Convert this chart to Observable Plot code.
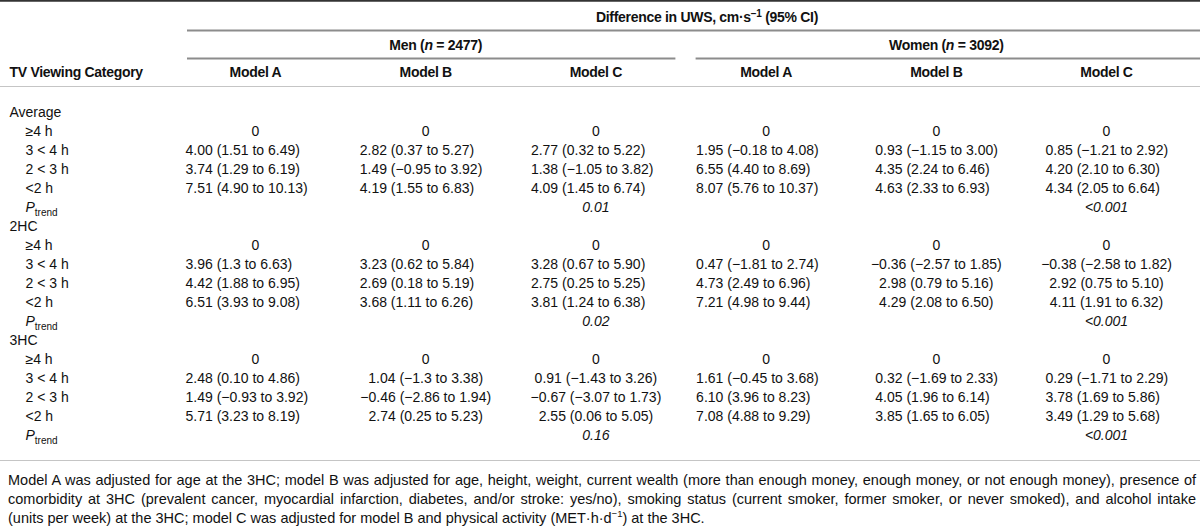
<!DOCTYPE html>
<html><head><meta charset="utf-8">
<script src="https://cdn.jsdelivr.net/npm/d3@7"></script>
<script src="https://cdn.jsdelivr.net/npm/@observablehq/plot@0.6"></script>
<style>
body{margin:0;background:#fff;width:1200px;overflow:hidden;font-family:"Liberation Sans",Arial,sans-serif;color:#111}
#head,#body{line-height:0}
#foot{font-size:14.5px;line-height:19px;padding:10px 4px 0 8px;}
#foot div{text-align:justify;white-space:nowrap}
#foot .j{text-align-last:justify}
sup{font-size:9.5px;line-height:0}
</style></head><body>
<div id="head"></div><div id="body"></div>
<div id="foot">
<div class="j">Model A was adjusted for age at the 3HC; model B was adjusted for age, height, weight, current wealth (more than enough money, enough money, or not enough money), presence of</div>
<div class="j">comorbidity at 3HC (prevalent cancer, myocardial infarction, diabetes, and/or stroke: yes/no), smoking status (current smoker, former smoker, or never smoked), and alcohol intake</div>
<div>(units per week) at the 3HC; model C was adjusted for model B and physical activity (MET·h·d<sup>−1</sup>) at the 3HC.</div>
</div>
<script>
// ---------- data ----------
const blocks = ["Average", "2HC", "3HC"];
const categories = ["≥4 h", "3 < 4 h", "2 < 3 h", "<2 h"];
const models = ["Model A", "Model B", "Model C"];
const groups = ["Men (n = 2477)", "Women (n = 3092)"];
const spannerLabel = "Difference in UWS, cm·s−1 (95% CI)";
const stubLabel = "TV Viewing Category";
const trendLabel = "Ptrend";

// cells: Average (4), 2HC (4), 3HC (4)
const menA = ["0", "4.00 (1.51 to 6.49)", "3.74 (1.29 to 6.19)", "7.51 (4.90 to 10.13)",
              "0", "3.96 (1.3 to 6.63)", "4.42 (1.88 to 6.95)", "6.51 (3.93 to 9.08)",
              "0", "2.48 (0.10 to 4.86)", "1.49 (−0.93 to 3.92)", "5.71 (3.23 to 8.19)"];
const menB = ["0", "2.82 (0.37 to 5.27)", "1.49 (−0.95 to 3.92)", "4.19 (1.55 to 6.83)",
              "0", "3.23 (0.62 to 5.84)", "2.69 (0.18 to 5.19)", "3.68 (1.11 to 6.26)",
              "0", "1.04 (−1.3 to 3.38)", "−0.46 (−2.86 to 1.94)", "2.74 (0.25 to 5.23)"];
const menC = ["0", "2.77 (0.32 to 5.22)", "1.38 (−1.05 to 3.82)", "4.09 (1.45 to 6.74)",
              "0", "3.28 (0.67 to 5.90)", "2.75 (0.25 to 5.25)", "3.81 (1.24 to 6.38)",
              "0", "0.91 (−1.43 to 3.26)", "−0.67 (−3.07 to 1.73)", "2.55 (0.06 to 5.05)"];
const womenA = ["0", "1.95 (−0.18 to 4.08)", "6.55 (4.40 to 8.69)", "8.07 (5.76 to 10.37)",
                "0", "0.47 (−1.81 to 2.74)", "4.73 (2.49 to 6.96)", "7.21 (4.98 to 9.44)",
                "0", "1.61 (−0.45 to 3.68)", "6.10 (3.96 to 8.23)", "7.08 (4.88 to 9.29)"];
const womenB = ["0", "0.93 (−1.15 to 3.00)", "4.35 (2.24 to 6.46)", "4.63 (2.33 to 6.93)",
                "0", "−0.36 (−2.57 to 1.85)", "2.98 (0.79 to 5.16)", "4.29 (2.08 to 6.50)",
                "0", "0.32 (−1.69 to 2.33)", "4.05 (1.96 to 6.14)", "3.85 (1.65 to 6.05)"];
const womenC = ["0", "0.85 (−1.21 to 2.92)", "4.20 (2.10 to 6.30)", "4.34 (2.05 to 6.64)",
                "0", "−0.38 (−2.58 to 1.82)", "2.92 (0.75 to 5.10)", "4.11 (1.91 to 6.32)",
                "0", "0.29 (−1.71 to 2.29)", "3.78 (1.69 to 5.86)", "3.49 (1.29 to 5.68)"];
const pTrendMenC = ["0.01", "0.02", "0.16"];
const pTrendWomenC = ["<0.001", "<0.001", "<0.001"];

// ---------- layout / style ----------
const FONT = '"Liberation Sans", Arial, sans-serif';
const FS = 14;
const columns = [menA, menB, menC, womenA, womenB, womenC];
const colIdx = d3.range(columns.length);
const xScale = {domain: [0, 5], range: [255, 1106]};
const leftOffset = [-70, -66, -65, -70, -61, -61];
const centered = new Set(["2HC|4", "2HC|5", "3HC|1", "3HC|2"]);
const gray = "#8c8c8c";

// rows
const rows = [];
const cells = [];
blocks.forEach((b, bi) => {
  rows.push({key: "b" + bi, label: b, kind: "block"});
  categories.forEach((c, ci) => {
    const key = `r${bi}_${ci}`;
    rows.push({key, label: c, kind: "cat"});
    columns.forEach((col, j) => {
      const text = col[bi * 4 + ci];
      const align = text === "0" || centered.has(b + "|" + j) ? "middle" : "start";
      cells.push({row: key, col: j, text, align});
    });
  });
  rows.push({key: "p" + bi, label: trendLabel, kind: "p"});
  cells.push({row: "p" + bi, col: 2, text: pTrendMenC[bi], align: "p"});
  cells.push({row: "p" + bi, col: 5, text: pTrendWomenC[bi], align: "p"});
});

const rich = new Map([
  [spannerLabel, [["Difference in UWS, cm·s", ""], ["−1", "sup"], [" (95% CI)", ""]]],
  [groups[0], [["Men (", ""], ["n", "i"], [" = 2477)", ""]]],
  [groups[1], [["Women (", ""], ["n", "i"], [" = 3092)", ""]]],
  [trendLabel, [["P", "i"], ["trend", "sub"]]]
]);
function richify(svg) {
  d3.select(svg).selectAll("text").each(function () {
    const parts = rich.get(this.textContent);
    if (!parts) return;
    const t = d3.select(this);
    t.text(null);
    let shift = 0;
    for (const [s, kind] of parts) {
      const ts = t.append("tspan").text(s);
      let target = 0;
      if (kind === "sup") { target = -5; ts.attr("font-size", 10).attr("font-weight", "bold"); }
      if (kind === "sub") { target = 4; ts.attr("font-size", 10); }
      if (kind === "i") ts.attr("font-style", "italic");
      if (target !== shift) { ts.attr("dy", target - shift); shift = target; }
    }
  });
}

// ---------- header ----------
const hBands = ["spanner", "group", "model"];
const hRange = [2, 86];
const hbw = (hRange[1] - hRange[0]) / hBands.length;
const hText = {fontWeight: "bold"};
const head = Plot.plot({
  width: 1200, height: 87, margin: 0,
  style: {fontFamily: FONT, fontSize: FS + "px", color: "#111", background: "#fff"},
  x: {...xScale, axis: null},
  y: {type: "band", domain: hBands, range: hRange, padding: 0, axis: null},
  marks: [
    Plot.frame({anchor: "top", stroke: "#333", strokeWidth: 2.5}),
    Plot.ruleY(["group"], {x1: 0, x2: 5, insetLeft: -68, insetRight: -94, dy: -hbw / 2, stroke: gray, strokeWidth: 2}),
    Plot.ruleY(["model"], {x1: 0, x2: 2, insetLeft: -68, insetRight: -80, dy: -hbw / 2, stroke: gray, strokeWidth: 2}),
    Plot.ruleY(["model"], {x1: 3, x2: 5, insetLeft: -70, insetRight: -94, dy: -hbw / 2, stroke: gray, strokeWidth: 2}),
    Plot.frame({anchor: "bottom", stroke: gray, strokeWidth: 2}),
    Plot.text([spannerLabel], {x: () => 2.5, y: () => "spanner", text: d => d, dx: 26, dy: 1, ...hText}),
    Plot.text(groups, {x: (d, i) => 1 + 3 * i, y: () => "group", text: d => d, dx: 10, dy: 1, ...hText}),
    Plot.text(colIdx, {x: d => d, y: () => "model", text: d => models[d % 3], ...hText}),
    Plot.text([stubLabel], {frameAnchor: "left", y: () => "model", text: d => d, dx: 9, textAnchor: "start", ...hText})
  ]
});
richify(head);
d3.select(head).selectAll("text").attr("letter-spacing", "-0.3");
document.getElementById("head").append(head);

// ---------- body ----------
const rowH = 19.5;
const bRange = [11.25, 11.25 + rows.length * rowH];
const bodyMarks = [
  Plot.text(rows.filter(r => r.kind === "block"), {frameAnchor: "left", y: "key", text: "label", textAnchor: "start", dx: 9}),
  Plot.text(rows.filter(r => r.kind !== "block"), {frameAnchor: "left", y: "key", text: "label", textAnchor: "start", dx: 25}),
  Plot.text(cells.filter(c => c.align === "middle"), {x: "col", y: "row", text: "text"}),
  Plot.text(cells.filter(c => c.align === "p"), {x: "col", y: "row", text: "text", fontStyle: "italic"}),
  Plot.frame({anchor: "bottom", stroke: gray, strokeWidth: 2})
];
colIdx.forEach(j => {
  bodyMarks.push(Plot.text(cells.filter(c => c.align === "start" && c.col === j),
    {x: "col", y: "row", text: "text", textAnchor: "start", dx: leftOffset[j]}));
});
const body = Plot.plot({
  width: 1200, height: 374, margin: 0,
  style: {fontFamily: FONT, fontSize: FS + "px", color: "#111", background: "#fff"},
  x: {...xScale, axis: null},
  y: {type: "band", domain: rows.map(r => r.key), range: bRange, padding: 0, axis: null},
  marks: bodyMarks
});
richify(body);
document.getElementById("body").append(body);
</script>
</body></html>
